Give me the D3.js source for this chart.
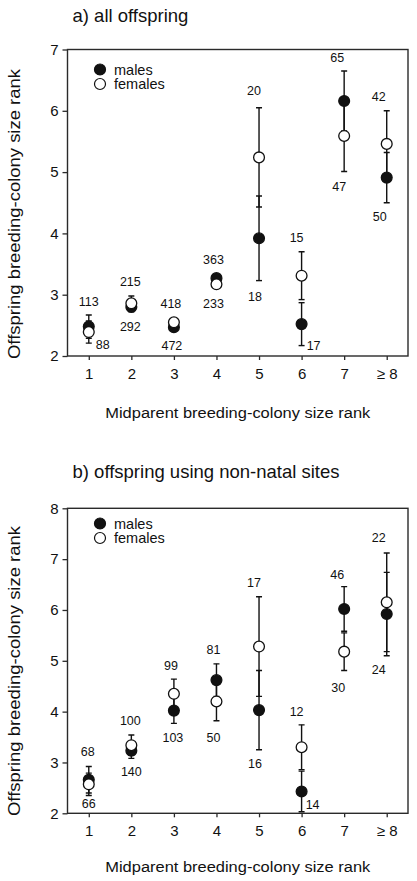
<!DOCTYPE html>
<html>
<head>
<meta charset="utf-8">
<script src="https://cdn.jsdelivr.net/npm/d3@7"></script>
<style>
  html, body { margin: 0; padding: 0; background: #fff; }
  svg { display: block; font-family: "Liberation Sans", Arial, Helvetica, sans-serif; }
</style>
</head>
<body>
<svg id="chart" width="417" height="881"></svg>
<script>
// ---------- DATA ----------
const categories = [1, 2, 3, 4, 5, 6, 7, 8];
const tickLabels = ["1", "2", "3", "4", "5", "6", "7", "\u2265 8"];

// panel a) all offspring
const aMalesMean   = [2.48, 2.80, 2.47, 3.27, 3.92, 2.52, 6.16, 4.91];
const aMalesSE     = [0.19, 0.08, 0.04, 0.04, 0.69, 0.35, 0.49, 0.41];
const aMalesN      = [113, 292, 472, 363, 18, 17, 65, 50];
const aFemalesMean = [2.39, 2.86, 2.55, 3.17, 5.24, 3.31, 5.59, 5.46];
const aFemalesSE   = [0.18, 0.12, 0.05, 0.05, 0.81, 0.39, 0.58, 0.54];
const aFemalesN    = [88, 215, 418, 233, 20, 15, 47, 42];
const aYTicks      = [2, 3, 4, 5, 6, 7];

// panel b) offspring using non-natal sites
const bMalesMean   = [2.66, 3.23, 4.02, 4.62, 4.03, 2.43, 6.02, 5.92];
const bMalesSE     = [0.26, 0.15, 0.25, 0.32, 0.78, 0.40, 0.44, 0.82];
const bMalesN      = [68, 140, 103, 81, 16, 14, 46, 24];
const bFemalesMean = [2.57, 3.34, 4.35, 4.20, 5.28, 3.30, 5.18, 6.15];
const bFemalesSE   = [0.22, 0.20, 0.29, 0.38, 0.98, 0.44, 0.37, 0.97];
const bFemalesN    = [66, 100, 99, 50, 17, 12, 30, 22];
const bYTicks      = [2, 3, 4, 5, 6, 7, 8];

// ---------- LAYOUT (label nudges, px) ----------
const aAboveDx = [0, -1, -3, -3, -5, -5, -7, -8];
const aAboveDy = [-13, -14, -15, -16, -17, -14, -13, -14];
const aBelowDx = [14, -1, -2, -3, -4, 12, -5, -7];
const aBelowDy = [2, 15, 16, 17, 16, 0, 16, 14];
const bAboveDx = [-1, -1, -3, -3, -5, -5, -7, -8];
const bAboveDy = [-15, -14, -13, -14, -14, -13, -12, -15];
const bBelowDx = [0, 0, -1, -3, -4, 11, -6, -8];
const bBelowDy = [8, 14, 15, 17, 14, -7, 18, 14];

const svg = d3.select("#chart");
const INK = "#111";
const FRAME = "#2a2a2a";

function panel(opt) {
  const x = d3.scaleLinear().domain([0.5, 8.5]).range([67.5, 408]);
  const y = d3.scaleLinear().domain(opt.yDomain).range([opt.bottom, opt.top]);
  const g = svg.append("g");

  // title
  g.append("text").attr("x", 72.5).attr("y", opt.titleY)
    .attr("font-size", 18.5).attr("fill", INK).text(opt.title);

  // frame
  g.append("rect").attr("x", x.range()[0]).attr("y", opt.top)
    .attr("width", x.range()[1] - x.range()[0]).attr("height", opt.bottom - opt.top)
    .attr("fill", "none").attr("stroke", FRAME).attr("stroke-width", 1.4);

  // y axis
  const ya = d3.axisLeft(y).tickValues(opt.yTicks).tickFormat(d3.format("d"))
    .tickSize(5).tickPadding(4);
  const yg = g.append("g").attr("transform", `translate(${x.range()[0]},0)`).call(ya);
  yg.select(".domain").remove();
  yg.selectAll("line").attr("stroke", FRAME).attr("stroke-width", 1.3);
  yg.selectAll("text").attr("font-size", 15).attr("fill", INK)
    .style("font-family", "'Liberation Sans', Arial, sans-serif");

  // x axis
  const xa = d3.axisBottom(x).tickValues(categories)
    .tickFormat((d, i) => tickLabels[i]).tickSize(4).tickPadding(8);
  const xg = g.append("g").attr("transform", `translate(0,${opt.bottom})`).call(xa);
  xg.select(".domain").remove();
  xg.selectAll("line").attr("stroke", FRAME).attr("stroke-width", 1.3);
  xg.selectAll("text").attr("font-size", 15).attr("fill", INK)
    .style("font-family", "'Liberation Sans', Arial, sans-serif");

  // axis titles
  g.append("text").attr("x", (x.range()[0] + x.range()[1]) / 2).attr("y", opt.xTitleY)
    .attr("text-anchor", "middle").attr("font-size", 15.5).attr("fill", INK)
    .attr("textLength", 265).attr("lengthAdjust", "spacingAndGlyphs")
    .text("Midparent breeding-colony size rank");
  g.append("text")
    .attr("transform", `translate(${opt.yTitleX},${opt.yTitleCY}) rotate(-90)`)
    .attr("text-anchor", "middle").attr("dominant-baseline", "central")
    .attr("font-size", 16).attr("fill", INK)
    .attr("textLength", 290).attr("lengthAdjust", "spacingAndGlyphs")
    .text("Offspring breeding-colony size rank");

  // legend
  const lg = g.append("g");
  lg.append("circle").attr("cx", 100).attr("cy", opt.legendY).attr("r", 5.5)
    .attr("fill", INK).attr("stroke", INK).attr("stroke-width", 1.2);
  lg.append("circle").attr("cx", 100).attr("cy", opt.legendY + 14.5).attr("r", 5.5)
    .attr("fill", "#fff").attr("stroke", INK).attr("stroke-width", 1.2);
  lg.append("text").attr("x", 114).attr("y", opt.legendY).attr("dominant-baseline", "central")
    .attr("font-size", 14.5).attr("fill", INK).text("males");
  lg.append("text").attr("x", 114).attr("y", opt.legendY + 14.5).attr("dominant-baseline", "central")
    .attr("font-size", 14.5).attr("fill", INK).text("females");

  const series = [
    { mean: opt.mMean, se: opt.mSE, n: opt.mN, fill: INK },
    { mean: opt.fMean, se: opt.fSE, n: opt.fN, fill: "#fff" }
  ];

  // error bars (clipped at plot frame)
  const clipId = "clip" + opt.id;
  svg.append("clipPath").attr("id", clipId).append("rect")
    .attr("x", x.range()[0]).attr("y", opt.top)
    .attr("width", x.range()[1] - x.range()[0]).attr("height", opt.bottom - opt.top);
  const eg = g.append("g").attr("clip-path", `url(#${clipId})`);
  series.forEach(s => {
    categories.forEach((c, i) => {
      const cx = x(c), y1 = y(s.mean[i] + s.se[i]), y2 = y(s.mean[i] - s.se[i]);
      eg.append("line").attr("x1", cx).attr("x2", cx).attr("y1", y1).attr("y2", y2)
        .attr("stroke", INK).attr("stroke-width", 1.4);
      [y1, y2].forEach(yy => eg.append("line").attr("x1", cx - 3).attr("x2", cx + 3)
        .attr("y1", yy).attr("y2", yy).attr("stroke", INK).attr("stroke-width", 1.4));
    });
  });

  // points: males first then females on top
  series.forEach(s => {
    g.selectAll(null).data(categories).enter().append("circle")
      .attr("cx", d => x(d)).attr("cy", (d, i) => y(s.mean[i])).attr("r", 5.4)
      .attr("fill", s.fill).attr("stroke", INK).attr("stroke-width", 1.3);
  });

  // sample size labels: higher series above, lower series below
  categories.forEach((c, i) => {
    const mHigh = opt.mMean[i] >= opt.fMean[i];
    const hi = mHigh ? series[0] : series[1];
    const lo = mHigh ? series[1] : series[0];
    const top = Math.max(opt.mMean[i] + opt.mSE[i], opt.fMean[i] + opt.fSE[i]);
    const bot = Math.min(opt.mMean[i] - opt.mSE[i], opt.fMean[i] - opt.fSE[i]);
    g.append("text").attr("x", x(c) + opt.aDx[i]).attr("y", y(top) + opt.aDy[i])
      .attr("text-anchor", "middle").attr("dominant-baseline", "central")
      .attr("font-size", 12.5).attr("fill", INK).text(hi.n[i]);
    g.append("text").attr("x", x(c) + opt.bDx[i]).attr("y", Math.min(y(bot), opt.bottom) + opt.bDy[i])
      .attr("text-anchor", "middle").attr("dominant-baseline", "central")
      .attr("font-size", 12.5).attr("fill", INK).text(lo.n[i]);
  });
}

panel({
  id: "a", title: "a) all offspring", titleY: 21.5,
  yDomain: [2, 7], top: 49.5, bottom: 356, yTicks: aYTicks,
  xTitleY: 417.5, yTitleX: 14, yTitleCY: 214, legendY: 69.5,
  mMean: aMalesMean, mSE: aMalesSE, mN: aMalesN,
  fMean: aFemalesMean, fSE: aFemalesSE, fN: aFemalesN,
  aDx: aAboveDx, aDy: aAboveDy, bDx: aBelowDx, bDy: aBelowDy
});

panel({
  id: "b", title: "b) offspring using non-natal sites", titleY: 478,
  yDomain: [2, 8], top: 508.3, bottom: 813.3, yTicks: bYTicks,
  xTitleY: 872, yTitleX: 14, yTitleCY: 671, legendY: 523.5,
  mMean: bMalesMean, mSE: bMalesSE, mN: bMalesN,
  fMean: bFemalesMean, fSE: bFemalesSE, fN: bFemalesN,
  aDx: bAboveDx, aDy: bAboveDy, bDx: bBelowDx, bDy: bBelowDy
});
</script>
</body>
</html>
